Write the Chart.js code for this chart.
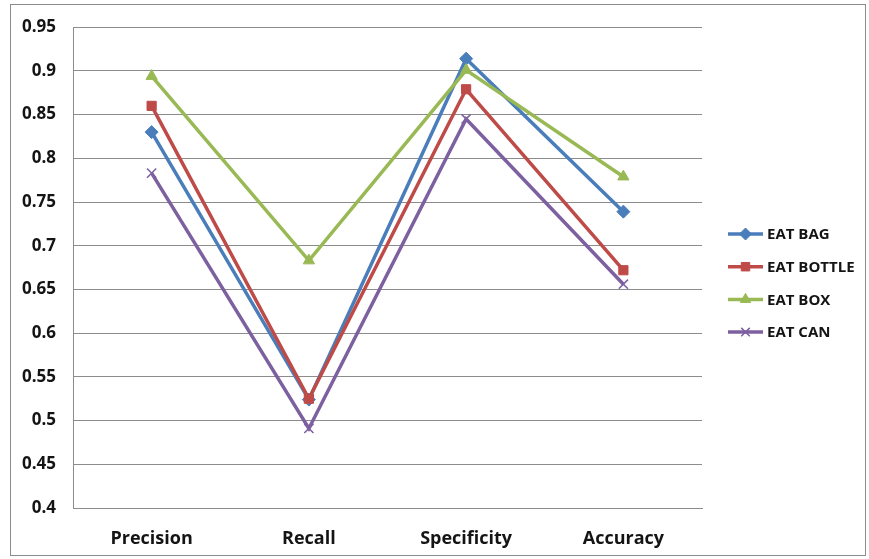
<!DOCTYPE html>
<html>
<head>
<meta charset="utf-8">
<script src="https://cdn.jsdelivr.net/npm/chart.js@4/dist/chart.umd.min.js"></script>
<style>
  html, body { margin: 0; padding: 0; background: #ffffff; }
  #wrap { width: 869px; height: 559px; position: relative; }
</style>
</head>
<body>
<div id="wrap"><canvas id="chart" width="869" height="559"></canvas></div>
<script>
// Metrics on the category axis
const categories = ['Precision', 'Recall', 'Specificity', 'Accuracy'];

// Scores per model
const eatBag    = [0.830, 0.524, 0.914, 0.739];
const eatBottle = [0.860, 0.525, 0.879, 0.672];
const eatBox    = [0.894, 0.683, 0.901, 0.779];
const eatCan    = [0.783, 0.491, 0.845, 0.656];

const seriesNames = ['EAT BAG', 'EAT BOTTLE', 'EAT BOX', 'EAT CAN'];

// Value axis tick labels
const yTickLabels = ['0.4', '0.45', '0.5', '0.55', '0.6', '0.65', '0.7', '0.75', '0.8', '0.85', '0.9', '0.95'];

const FONT = '"Open Sans", Lato, sans-serif';
const TEXT = '#141414';
const colors = ['#4a7ebb', '#be4b48', '#98b954', '#7d60a0'];
const markers = ['rectRot', 'rect', 'triangle', 'crossRot'];

function makeSet(i, data) {
  return {
    label: seriesNames[i],
    data: data,
    order: 3 - i, // later series are painted over earlier ones
    borderColor: colors[i],
    backgroundColor: colors[i],
    borderWidth: 3.5,
    pointStyle: markers[i],
    pointRadius: 6.5,
    pointBorderWidth: i === 3 ? 1.5 : 1,
    pointBorderColor: colors[i],
    pointBackgroundColor: colors[i],
    tension: 0,
    fill: false
  };
}

// Outer frame around the whole chart
const framePlugin = {
  id: 'frame',
  beforeDraw(chart) {
    const ctx = chart.ctx;
    ctx.save();
    ctx.fillStyle = '#ffffff';
    ctx.fillRect(0, 0, chart.width, chart.height);
    ctx.strokeStyle = '#8c8c8c';
    ctx.lineWidth = 1;
    ctx.strokeRect(10.5, 4.5, 855, 551);
    ctx.restore();
  }
};

// Legend at the right: a short line with the series marker, then the name
const lineLegend = {
  id: 'lineLegend',
  afterDraw(chart) {
    const ctx = chart.ctx;
    const x0 = 728, lineLen = 35, gap = 32.7, yStart = 234;
    ctx.save();
    chart.data.datasets.forEach((ds, i) => {
      const y = yStart + i * gap;
      ctx.strokeStyle = ds.borderColor;
      ctx.lineWidth = 3.5;
      ctx.beginPath();
      ctx.moveTo(x0, y);
      ctx.lineTo(x0 + lineLen, y);
      ctx.stroke();
      ctx.fillStyle = ds.borderColor;
      ctx.strokeStyle = ds.borderColor;
      ctx.lineWidth = ds.pointBorderWidth;
      Chart.helpers.drawPoint(ctx, {
        pointStyle: ds.pointStyle,
        radius: 6,
        borderWidth: ds.pointBorderWidth,
        rotation: 0
      }, x0 + lineLen / 2, y);
      ctx.fillStyle = TEXT;
      ctx.font = 'bold 15px ' + FONT;
      ctx.textBaseline = 'middle';
      ctx.textAlign = 'left';
      ctx.fillText(ds.label, x0 + lineLen + 4, y + 1);
    });
    ctx.restore();
  }
};

new Chart(document.getElementById('chart'), {
  type: 'line',
  data: {
    labels: categories,
    datasets: [
      makeSet(0, eatBag),
      makeSet(1, eatBottle),
      makeSet(2, eatBox),
      makeSet(3, eatCan)
    ]
  },
  options: {
    responsive: false,
    animation: false,
    devicePixelRatio: 1,
    layout: { padding: { left: 0, top: 23, right: 167, bottom: 0 } },
    plugins: {
      legend: { display: false },
      tooltip: { enabled: false }
    },
    scales: {
      x: {
        offset: true,
        grid: { display: false, drawTicks: false },
        border: { display: true, color: '#8c8c8c', width: 1 },
        ticks: {
          color: TEXT,
          font: { family: FONT, size: 18, weight: 'bold' },
          padding: 20,
          maxRotation: 0
        },
        afterFit(scale) { scale.height = 51; }
      },
      y: {
        min: 0.4,
        max: 0.95,
        grid: { color: '#8c8c8c', lineWidth: 1, drawTicks: false },
        border: { display: true, color: '#8c8c8c', width: 1 },
        ticks: {
          stepSize: 0.05,
          color: TEXT,
          font: { family: FONT, size: 17, weight: 'bold' },
          padding: 17,
          callback(value, index) { return yTickLabels[index]; }
        },
        afterFit(scale) { scale.width = 73; }
      }
    }
  },
  plugins: [framePlugin, lineLegend]
});
</script>
</body>
</html>
